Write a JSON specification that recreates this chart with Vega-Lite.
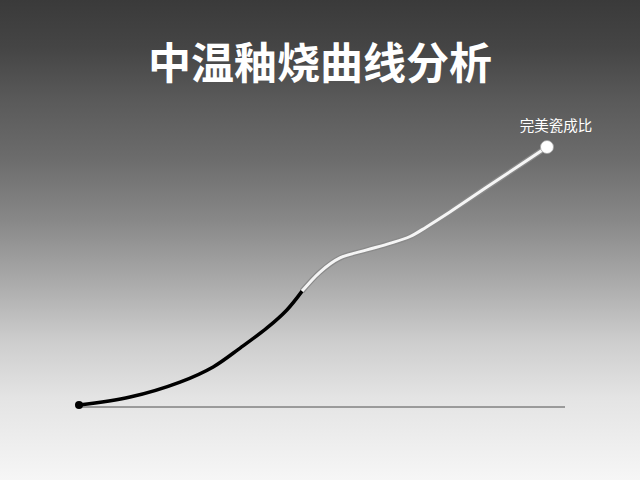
{
  "$schema": "https://vega.github.io/schema/vega-lite/v6.json",
  "width": 640,
  "height": 480,
  "padding": 0,
  "autosize": {"type": "none"},
  "background": "#f6f6f6",
  "view": {
    "stroke": null,
    "fill": {
      "gradient": "linear", "x1": 0, "y1": 0, "x2": 0, "y2": 1,
      "stops": [
        {"offset": 0, "color": "#3a3a3a"},
        {"offset": 0.1, "color": "#454545"},
        {"offset": 0.21, "color": "#5a5a5a"},
        {"offset": 0.33, "color": "#6c6c6c"},
        {"offset": 0.46, "color": "#888888"},
        {"offset": 0.58, "color": "#a8a8a8"},
        {"offset": 0.71, "color": "#cdcdcd"},
        {"offset": 0.83, "color": "#e4e4e4"},
        {"offset": 1, "color": "#f6f6f6"}
      ]
    }
  },
  "title": {
    "text": "中温釉烧曲线分析",
    "orient": "top",
    "anchor": "middle",
    "baseline": "top",
    "offset": -88,
    "font": "Noto Sans CJK SC",
    "fontSize": 43,
    "fontWeight": "bold",
    "color": "#ffffff"
  },
  "data": {
    "values": [
      {"t": 0, "T": 9, "stage": "black"},
      {"t": 1.31, "T": 46, "stage": "black"},
      {"t": 2.59, "T": 115, "stage": "black"},
      {"t": 3.44, "T": 185, "stage": "black"},
      {"t": 4.13, "T": 272, "stage": "black"},
      {"t": 4.82, "T": 365, "stage": "black"},
      {"t": 5.33, "T": 448, "stage": "black"},
      {"t": 5.72, "T": 535, "stage": "black"},
      {"t": 5.72, "T": 535, "stage": "white"},
      {"t": 6.18, "T": 623, "stage": "white"},
      {"t": 6.69, "T": 688, "stage": "white"},
      {"t": 7.38, "T": 725, "stage": "white"},
      {"t": 7.97, "T": 755, "stage": "white"},
      {"t": 8.49, "T": 787, "stage": "white"},
      {"t": 8.9, "T": 830, "stage": "white"},
      {"t": 9.51, "T": 900, "stage": "white"},
      {"t": 10.46, "T": 1015, "stage": "white"},
      {"t": 11.31, "T": 1117, "stage": "white"},
      {"t": 12, "T": 1200, "stage": "white"}
    ]
  },
  "encoding": {
    "x": {"field": "t", "type": "quantitative", "axis": null,
          "scale": {"domain": [-2.026, 14.385], "nice": false, "zero": false}},
    "y": {"field": "T", "type": "quantitative", "axis": null,
          "scale": {"domain": [-336.9, 1878.5], "nice": false, "zero": false}}
  },
  "layer": [
    {
      "mark": {"type": "rule", "color": "#9a9a9a", "strokeWidth": 1},
      "encoding": {
        "x": {"datum": 0, "type": "quantitative"},
        "x2": {"datum": 12.46},
        "y": {"datum": 0, "type": "quantitative"}
      }
    },
    {
      "transform": [{"filter": "datum.stage === 'black'"}],
      "mark": {"type": "line", "color": "#000000", "strokeWidth": 3.5, "interpolate": "catmull-rom", "strokeCap": "round"}
    },
    {
      "transform": [{"filter": "datum.stage === 'white'"}],
      "mark": {"type": "line", "color": "#8a8a8a", "strokeWidth": 5.5, "interpolate": "catmull-rom", "strokeCap": "butt"}
    },
    {
      "transform": [{"filter": "datum.stage === 'white'"}],
      "mark": {"type": "line", "color": "#f5f5f5", "strokeWidth": 3, "interpolate": "catmull-rom", "strokeCap": "butt"}
    },
    {
      "transform": [{"filter": "datum.t === 0"}],
      "mark": {"type": "point", "filled": true, "color": "#000000", "size": 65, "opacity": 1}
    },
    {
      "transform": [{"filter": "datum.t === 12"}],
      "mark": {"type": "point", "filled": true, "fill": "#ffffff", "stroke": "#a0a0a0", "strokeWidth": 0.8, "size": 170, "opacity": 1}
    },
    {
      "transform": [{"filter": "datum.t === 12"}],
      "mark": {"type": "text", "text": "完美瓷成比", "font": "Noto Sans CJK SC", "fontSize": 14.5, "color": "#ffffff", "dx": 9, "dy": -20, "baseline": "middle", "align": "center"}
    }
  ]
}
